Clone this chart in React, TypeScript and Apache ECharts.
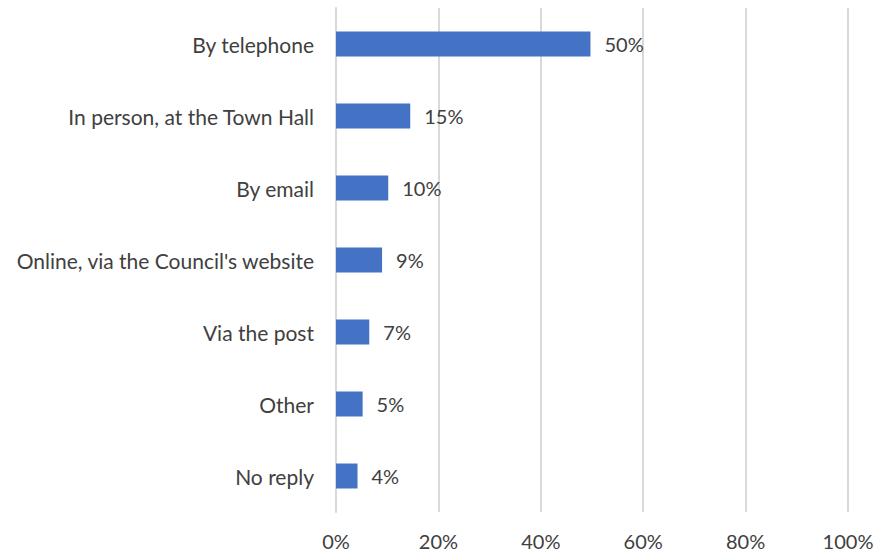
import React, { useEffect, useRef } from "react";
import * as echarts from "echarts";

const categories = [
  "By telephone",
  "In person, at the Town Hall",
  "By email",
  "Online, via the Council's website",
  "Via the post",
  "Other",
  "No reply",
];
const values = [49.7, 14.5, 10.2, 9.0, 6.5, 5.2, 4.2];
const xTicks = [0, 20, 40, 60, 80, 100];

const FONT = "Lato, sans-serif";

export default function App() {
  const ref = useRef<HTMLDivElement>(null);
  useEffect(() => {
    if (!ref.current) return;
    const chart = echarts.init(ref.current, undefined, { renderer: "svg" });
    chart.setOption({
      animation: false,
      grid: { left: 336, right: 29, top: 8, bottom: 40, containLabel: false },
      xAxis: {
        type: "value",
        min: xTicks[0],
        max: xTicks[xTicks.length - 1],
        interval: 20,
        axisLabel: {
          formatter: (v: number) => `${v}%`,
          color: "#404040",
          fontSize: 20,
          fontFamily: FONT,
          margin: 19,
        },
        axisLine: { show: false },
        axisTick: { show: false },
        splitLine: { show: true, lineStyle: { color: "#d9d9d9", width: 2 } },
      },
      yAxis: {
        type: "category",
        data: categories,
        inverse: true,
        axisLabel: {
          color: "#404040",
          fontSize: 21,
          fontFamily: FONT,
          margin: 22,
        },
        axisLine: { show: true, lineStyle: { color: "#d9d9d9", width: 2 } },
        axisTick: { show: false },
      },
      series: [
        {
          type: "bar",
          data: values,
          barWidth: 25,
          itemStyle: { color: "#4472C4" },
          label: {
            show: true,
            position: "right",
            distance: 14,
            formatter: (p: any) => `${Math.round(p.value)}%`,
            color: "#404040",
            fontSize: 20,
            fontFamily: FONT,
          },
        },
      ],
    });
    return () => chart.dispose();
  }, []);
  return (
    <div
      ref={ref}
      style={{ position: "absolute", left: 0, top: 0, width: 877, height: 552 }}
    />
  );
}
